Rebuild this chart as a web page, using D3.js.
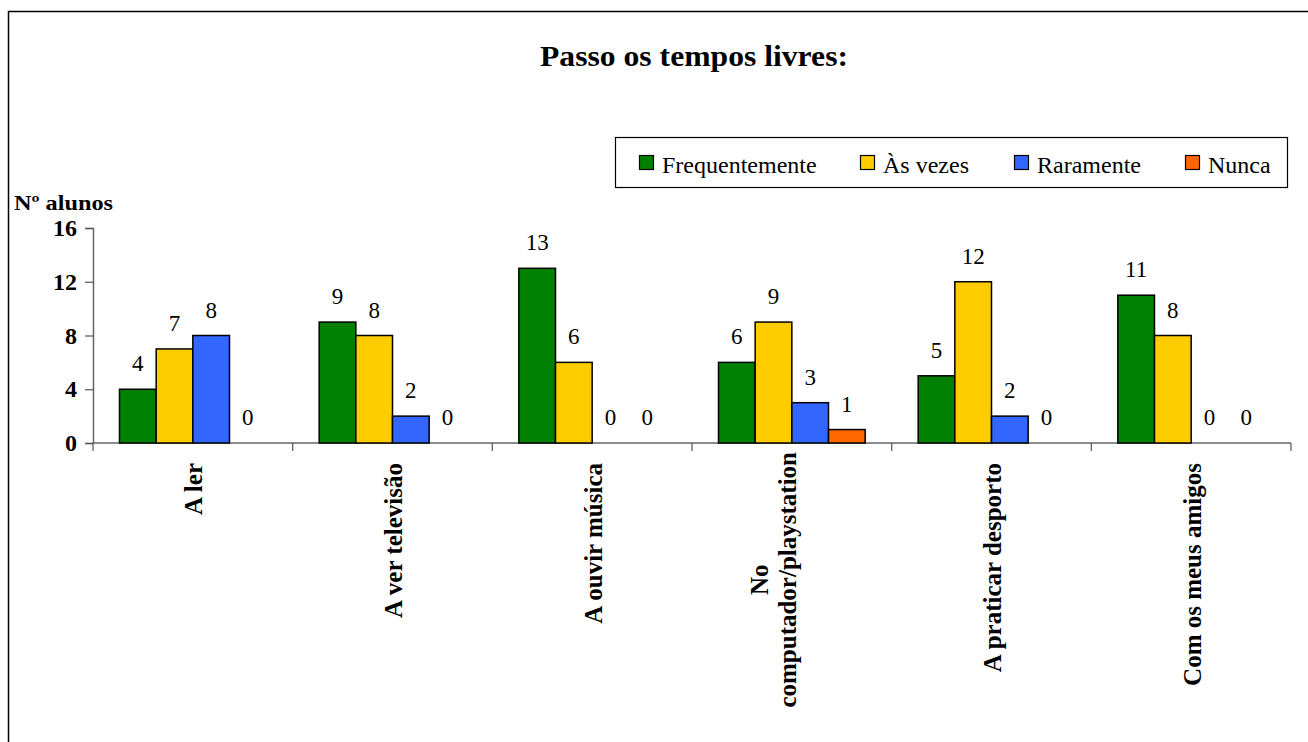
<!DOCTYPE html>
<html><head><meta charset="utf-8">
<script src="https://cdn.jsdelivr.net/npm/d3@7"></script>
<style>body{margin:0;background:#fff;}</style>
</head>
<body>
<svg id="c" width="1308" height="742"></svg>
<script>
const categories = [["A ler"],["A ver televisão"],["A ouvir música"],["No","computador/playstation"],["A praticar desporto"],["Com os meus amigos"]];
const seriesNames = ["Frequentemente","Às vezes","Raramente","Nunca"];
const seriesColors = ["#008000","#FFCC00","#3366FF","#FF6600"];
const frequentemente = [4,9,13,6,5,11];
const asVezes = [7,8,6,9,12,8];
const raramente = [8,2,0,3,2,0];
const nunca = [0,0,0,1,0,0];
const yTicks = [0,4,8,12,16];
const values = [frequentemente, asVezes, raramente, nunca];

const FONT = '"Liberation Serif", "Times New Roman", serif';
const svg = d3.select("#c");
// outer border
svg.append("rect").attr("x",8.5).attr("y",11.5).attr("width",1320).attr("height",760)
  .attr("fill","none").attr("stroke","#000").attr("stroke-width",1.5);

const x0 = 93, x1 = 1291, yTop = 228, yBot = 443;
const x = d3.scaleBand().domain(d3.range(categories.length)).range([x0,x1]).paddingInner(0).paddingOuter(0);
const xs = d3.scaleBand().domain(d3.range(seriesNames.length)).range([26.5, x.bandwidth()-26.5]);
const y = d3.scaleLinear().domain([0,16]).range([yBot,yTop]);

// title
svg.append("text").attr("x",540).attr("y",66)
  .style("font-family",FONT).attr("font-size",30).attr("font-weight","bold")
  .attr("textLength",308).attr("lengthAdjust","spacingAndGlyphs").text("Passo os tempos livres:");

// y axis
const ya = svg.append("g").attr("transform",`translate(${x0},0)`)
  .call(d3.axisLeft(y).tickValues(yTicks).tickSize(8).tickPadding(8));
ya.select(".domain").attr("stroke","#666").attr("stroke-width",1.5);
ya.selectAll(".tick line").attr("stroke","#555").attr("stroke-width",1.2);
ya.selectAll(".tick text").attr("font-size",24).attr("font-weight","bold")
  .style("font-family",FONT).attr("fill","#000");

svg.append("text").attr("x",14).attr("y",210).style("font-family",FONT).attr("font-size",22).attr("font-weight","bold")
  .attr("textLength",99).attr("lengthAdjust","spacingAndGlyphs").text("Nº alunos");

// x axis
const xa = svg.append("g").attr("transform",`translate(0,${yBot})`);
xa.append("line").attr("x1",x0).attr("x2",x1).attr("stroke","#666").attr("stroke-width",1.5);
const tickPos = d3.range(categories.length+1).map(i => i===categories.length ? x1 : x(i));
xa.selectAll("line.t").data(tickPos).join("line").attr("class","t")
  .attr("x1",d=>d).attr("x2",d=>d).attr("y1",0).attr("y2",8).attr("stroke","#555").attr("stroke-width",1.2);

// bars
const groups = svg.selectAll("g.cat").data(categories).join("g").attr("class","cat")
  .attr("transform",(d,i)=>`translate(${x(i)},0)`);
values.forEach((vals,s)=>{
  groups.append("rect")
    .attr("x",xs(s)).attr("width",xs.bandwidth())
    .attr("y",(d,i)=>y(vals[i])).attr("height",(d,i)=>yBot-y(vals[i]))
    .attr("fill",seriesColors[s]).attr("stroke","#000").attr("stroke-width",(d,i)=>vals[i]>0?1.5:0);
  groups.append("text")
    .attr("x",xs(s)+xs.bandwidth()/2).attr("y",(d,i)=>y(vals[i])-18)
    .attr("text-anchor","middle").style("font-family",FONT).attr("font-size",23).text((d,i)=>vals[i]);
});

// category labels
categories.forEach((lines,i)=>{
  const cx = x(i)+x.bandwidth()/2;
  const n = lines.length;
  const lh = 28;
  const t = svg.append("text").style("font-family",FONT).attr("font-size",25).attr("font-weight","bold")
    .attr("text-anchor","middle");
  lines.forEach((ln,k)=>{
    t.append("tspan").attr("x",0).attr("dy",k===0?0:lh).text(ln);
  });
  let L = 0;
  t.selectAll("tspan").each(function(){L = Math.max(L,this.getComputedTextLength());});
  const bx = n>1 ? cx - 24 : cx + 9.5;
  const top = n>1 ? 452 : 463;
  t.attr("transform",`translate(${bx},${top+L/2}) rotate(-90)`);
});

// legend
const lg = svg.append("g");
lg.append("rect").attr("x",615.5).attr("y",137.5).attr("width",672).attr("height",50)
  .attr("fill","#fff").attr("stroke","#000").attr("stroke-width",1.2);
const legX = [639,860,1014,1185];
seriesNames.forEach((nm,s)=>{
  lg.append("rect").attr("x",legX[s]+0.5).attr("y",155.5).attr("width",14).attr("height",14)
    .attr("fill",seriesColors[s]).attr("stroke","#000").attr("stroke-width",1.2);
  lg.append("text").attr("x",legX[s]+23).attr("y",173).style("font-family",FONT).attr("font-size",24)
    .text(nm);
});
</script>
</body></html>
